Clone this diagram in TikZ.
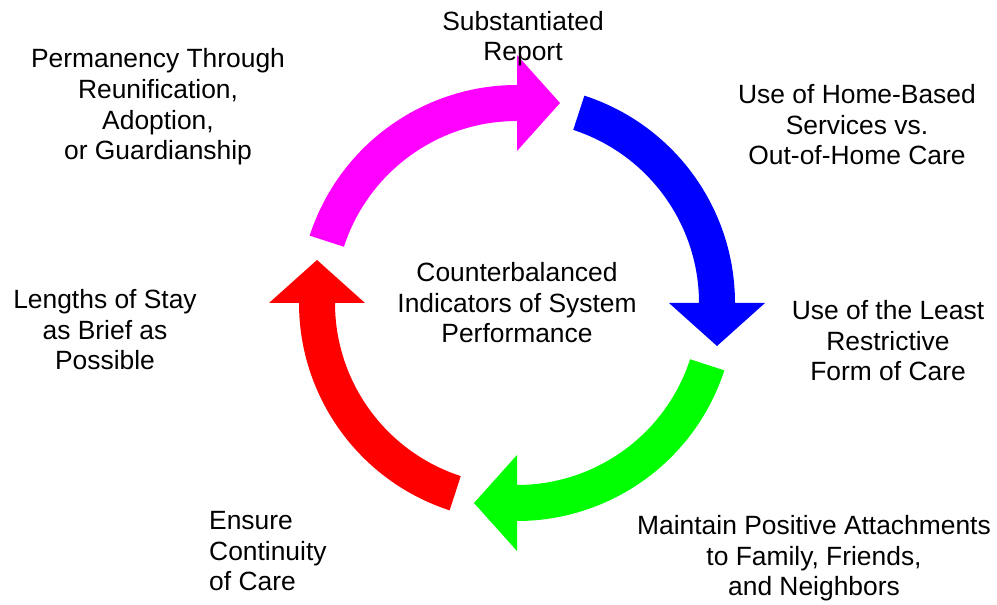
\documentclass[tikz,border=0pt]{standalone}
\usepackage{fontspec}
\setmainfont{Liberation Sans}
\definecolor{cmag}{RGB}{255,0,255}
\definecolor{cblue}{RGB}{0,0,255}
\definecolor{cgreen}{RGB}{0,255,0}
\definecolor{cred}{RGB}{255,0,0}
\begin{document}
\begin{tikzpicture}[x=1pt,y=1pt,
  lbl/.style={inner sep=0pt, align=center, anchor=base,
    font=\fontsize{26.4}{30.7}\selectfont},
  cycarrow/.pic={
    \fill (72:218) arc[start angle=72, end angle=0, radius=218]
      -- (248,0) -- (200,-43) -- (152,0) -- (182,0)
      arc[start angle=0, end angle=72, radius=182] -- cycle;
  }]
\useasboundingbox (0,0) rectangle (997,605);
\coordinate (C) at (517,302);
% cycle arrows
\pic[cmag,  rotate=90]  at (C) {cycarrow};
\pic[cblue, rotate=0]   at (C) {cycarrow};
\pic[cgreen,rotate=-90] at (C) {cycarrow};
\pic[cred,  rotate=180] at (C) {cycarrow};
% labels (anchor = baseline of last line)
\node[lbl] (sub) at (523,544) {Substantiated\\Report};
\node[lbl] (home) at (857,440) {Use of Home-Based\\Services vs.\\Out-of-Home Care};
\node[lbl] (least) at (888,224) {Use of the Least\\Restrictive\\Form of Care};
\node[lbl] (maint) at (814,9) {Maintain Positive Attachments\\to Family, Friends,\\and Neighbors};
\node[lbl, align=left, anchor=base west] (ens) at (209,14) {Ensure\\Continuity\\of Care};
\node[lbl] (len) at (105,235) {Lengths of Stay\\as Brief as\\Possible};
\node[lbl] (perm) at (158,445) {Permanency Through\\Reunification,\\Adoption,\\or Guardianship};
\node[lbl] (ctr) at (517,262) {Counterbalanced\\Indicators of System\\Performance};
\end{tikzpicture}
\end{document}
